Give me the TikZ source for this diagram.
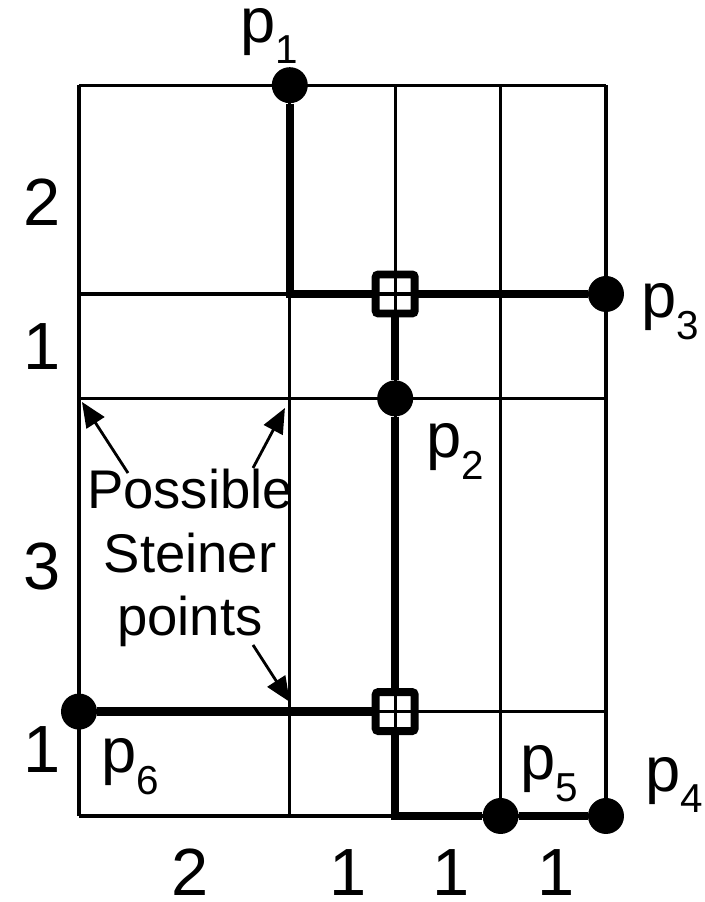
\documentclass[tikz,border=0pt]{standalone}
\usepackage{fontspec}
\setmainfont{Liberation Sans}
\usetikzlibrary{arrows.meta}

\newcommand{\pname}[1]{p\raisebox{-0.34em}{\fontsize{23}{26}\selectfont #1}}

\begin{document}
\begin{tikzpicture}[x=2.108cm,y=2.088cm,>={Triangle[length=5mm,width=4.2mm]},
  gridline/.style={line width=1.8pt},
  wire/.style={line width=4.8pt},
  pin/.style={circle,fill=black,inner sep=0pt,minimum size=7.2mm},
  sp/.style={draw,fill=white,line width=4.5pt,rounded corners=1.5pt,inner sep=0pt,minimum size=7.8mm,
    path picture={\draw[gridline] (path picture bounding box.north)--(path picture bounding box.south)
      (path picture bounding box.west)--(path picture bounding box.east);}},
  lab/.style={font=\fontsize{36}{40}\selectfont,inner sep=0pt,anchor=base west},
  num/.style={font=\fontsize{38}{42}\selectfont,inner sep=0pt,anchor=base},
  note/.style={font=\fontsize{31}{36}\selectfont,align=center,inner sep=0pt},
  pointer/.style={->,line width=1.6pt}]
\useasboundingbox (-0.7495,-0.824) rectangle (5.939,7.816);
% grid
\foreach \x in {0,2,3,4,5} \draw[gridline] (\x,0)--(\x,7);
\foreach \y in {0,1,4,5,7} \draw[gridline] (0,\y)--(5,\y);
% pins and Steiner points
\node[pin](p1) at (2,7){};
\node[pin](p2) at (3,4){};
\node[pin](p3) at (5,5){};
\node[pin](p4) at (5,0){};
\node[pin](p5) at (4,0){};
\node[pin](p6) at (0,1){};
\draw[wire] (p1) |- (3,5);
\draw[wire] (3,5)--(p3);
\draw[wire] (3,5)--(p2);
\draw[wire] (p2)--(3,1);
\draw[wire] (p6)--(3,1);
\draw[wire] (3,1) |- (p5);
\draw[wire] (p5)--(p4);
\node[sp](s1) at (3,5){};
\node[sp](s2) at (3,1){};
% labels
\node[lab](l1) at (1.527,7.41){\pname{1}};
\node[lab](l2) at (3.292,3.429){\pname{2}};
\node[lab](l3) at (5.332,4.770){\pname{3}};
\node[lab](l4) at (5.370,0.239){\pname{4}};
\node[lab](l5) at (4.184,0.345){\pname{5}};
\node[lab](l6) at (0.209,0.412){\pname{6}};
\foreach \y/\t [count=\i] in {5.66/2,4.272/1,2.165/3,0.412/1}
  \node[num](r\i) at (-0.351,\y){\t};
\foreach \x/\t [count=\i] in {1.053/2,2.552/1,3.529/1,4.526/1}
  \node[num](c\i) at (\x,-0.76){\t};
% possible Steiner points
\node[note](txt) at (1.053,2.471){Possible\\Steiner\\points};
\coordinate (a1) at (0.465,3.285); \coordinate (t1) at (0.028,3.966);
\coordinate (a2) at (1.651,3.333); \coordinate (t2) at (1.954,3.908);
\coordinate (a3) at (1.651,1.638); \coordinate (t3) at (2.0,1.092);
\foreach \i in {1,2,3} \draw[pointer] (a\i)--(t\i);
\end{tikzpicture}
\end{document}
